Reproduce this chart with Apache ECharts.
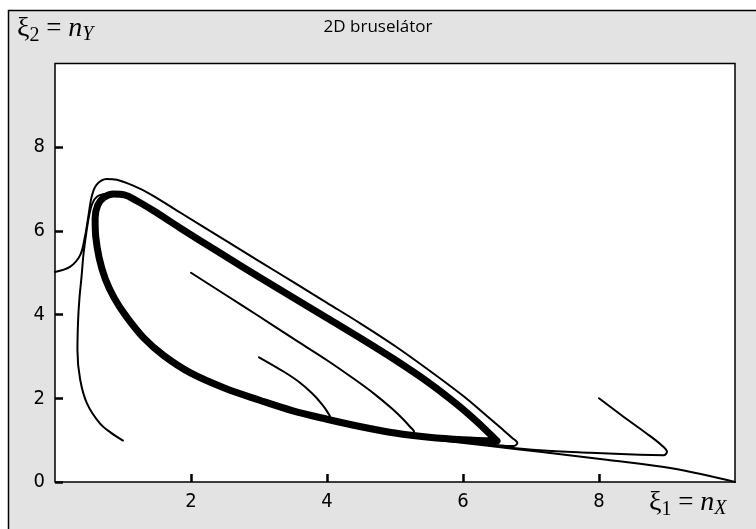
<!DOCTYPE html>
<html>
<head>
<meta charset="utf-8">
<script src="https://cdn.jsdelivr.net/npm/echarts@6/dist/echarts.min.js"></script>
<style>
html,body{margin:0;padding:0;background:#fff;}
#c{width:756px;height:529px;}
</style>
</head>
<body>
<div id="c"></div>
<script>
// ---- data ----
var chartTitle = '2D bruselátor';
var xTicks = [2, 4, 6, 8];
var yTicks = [0, 2, 4, 6, 8];

// limit cycle (thick)
var limitCycle = [[6.50,0.98],[6.0,1.01],[5.5,1.07],[5.0,1.17],[4.5,1.32],[4.0,1.50],[3.5,1.70],[3.0,1.96],[2.5,2.24],[2.0,2.60],[1.6,3.02],[1.3,3.45],[1.05,3.95],[0.87,4.40],[0.74,4.85],[0.65,5.35],[0.60,5.85],[0.59,6.30],[0.63,6.62],[0.72,6.80],[0.86,6.88],[1.02,6.86],[1.2,6.72],[1.45,6.48],[1.84,6.07],[2.4,5.50],[3.0,4.90],[3.5,4.41],[4.0,3.92],[4.5,3.43],[5.0,2.92],[5.5,2.37],[5.9,1.87],[6.2,1.45],[6.4,1.14],[6.50,0.98]];

// trajectories (thin)
var trajFrom0_5 = [[0,5.02],[0.22,5.14],[0.37,5.42],[0.44,5.86],[0.49,6.34],[0.54,6.82],[0.61,7.10],[0.76,7.24],[0.91,7.22],[1.15,7.08],[1.40,6.88],[1.84,6.44],[2.5,5.78],[3.0,5.28],[3.5,4.78],[4.0,4.28],[4.5,3.78],[5.0,3.25],[5.5,2.67],[6.0,2.06],[6.3,1.65],[6.55,1.30],[6.72,1.06],[6.80,0.93],[6.74,0.86],[6.5,0.88],[6.2,0.93]];
var trajFrom1_1 = [[1.0,0.99],[0.82,1.18],[0.66,1.40],[0.47,1.88],[0.37,2.45],[0.33,3.15],[0.34,3.87],[0.36,4.40],[0.39,4.90],[0.42,5.46],[0.46,5.95],[0.50,6.35],[0.55,6.66],[0.62,6.82],[0.72,6.88]];
var trajFrom2_5 = [[2.0,5.0],[2.5,4.48],[3.0,3.96],[3.5,3.43],[4.0,2.91],[4.4,2.46],[4.7,2.10],[4.95,1.76],[5.12,1.50],[5.22,1.32],[5.28,1.20],[5.26,1.14],[5.1,1.14],[5.0,1.17]];
var trajFrom3_3 = [[3.0,2.98],[3.36,2.64],[3.58,2.40],[3.78,2.12],[3.93,1.85],[4.02,1.64],[4.05,1.53],[4.0,1.50],[3.85,1.56]];
var trajFrom8_2 = [[8.0,2.0],[8.36,1.56],[8.70,1.16],[8.92,0.88],[9.0,0.72],[8.95,0.64],[8.6,0.65],[7.87,0.70],[7.13,0.76],[6.64,0.83],[6.2,0.92]];
var trajFrom10_0 = [[10,0],[9.09,0.32],[8.11,0.53],[7.13,0.72],[6.40,0.86],[5.66,1.0]];

var thinTrajectories = [trajFrom0_5, trajFrom1_1, trajFrom2_5, trajFrom3_3, trajFrom8_2, trajFrom10_0];

// ---- chart ----
var chart = echarts.init(document.getElementById('c'), null, {renderer:'canvas'});
var tickFont = "'Liberation Sans Narrow','DejaVu Sans Condensed','Liberation Sans',sans-serif";
var serif = "'Liberation Serif','DejaVu Serif',serif";

var series = thinTrajectories.map(function(d){
  return {type:'line', data:d, showSymbol:false, smooth:0.35, silent:true,
    lineStyle:{color:'#000', width:2, cap:'round', join:'round'}, z:3};
});
series.push({type:'line', data:limitCycle, showSymbol:false, smooth:0.35, silent:true,
  lineStyle:{color:'#000', width:7, cap:'round', join:'round'}, z:4});

function nameRich(){
  return {
    xi:{fontFamily:serif, fontSize:28, color:'#000'},
    sub:{fontFamily:serif, fontSize:20, color:'#000', padding:[14,0,0,0]},
    eq:{fontFamily:serif, fontSize:27, color:'#000'},
    n:{fontFamily:serif, fontStyle:'italic', fontSize:28, color:'#000'},
    subi:{fontFamily:serif, fontStyle:'italic', fontSize:20, color:'#000', padding:[12,0,0,0]}
  };
}

chart.setOption({
  animation:false,
  backgroundColor:'#fff',
  graphic:[
    {type:'rect', z:-10, shape:{x:8.5,y:10.5,width:800,height:600},
     style:{fill:'#e3e3e3', stroke:'#000', lineWidth:1.5}},
    {type:'text', z:10, left:17, top:15,
     style:{text:'{xi|ξ}{sub|2}{eq| = }{n|n}{subi|Y}', rich:nameRich()}},
    {type:'text', z:10, left:649, top:489,
     style:{text:'{xi|ξ}{sub|1}{eq| = }{n|n}{subi|X}', rich:nameRich()}}
  ],
  title:{text:chartTitle, left:'center', top:14,
    textStyle:{fontFamily:"'Open Sans','Noto Sans',sans-serif", fontSize:17, fontWeight:'normal', color:'#000'}},
  grid:{left:55, top:63.5, right:21, bottom:47, show:true, backgroundColor:'#fff', borderColor:'#000', borderWidth:1.5},
  xAxis:{type:'value', min:0, max:10, interval:2,
    axisLine:{show:false},
    splitLine:{show:false},
    axisTick:{show:true, inside:true, length:8, customValues:xTicks, lineStyle:{color:'#000', width:2.5}},
    axisLabel:{margin:10, color:'#000', fontFamily:tickFont, fontSize:20, customValues:xTicks,
      formatter:function(v){ return xTicks.indexOf(v) >= 0 ? String(v) : ''; }}
  },
  yAxis:{type:'value', min:0, max:10, interval:2,
    axisLine:{show:false},
    splitLine:{show:false},
    axisTick:{show:true, inside:true, length:8, customValues:yTicks, lineStyle:{color:'#000', width:2.5}},
    axisLabel:{margin:10, color:'#000', fontFamily:tickFont, fontSize:20, customValues:yTicks,
      formatter:function(v){ return yTicks.indexOf(v) >= 0 ? String(v) : ''; }}
  },
  series:series
});
</script>
</body>
</html>
